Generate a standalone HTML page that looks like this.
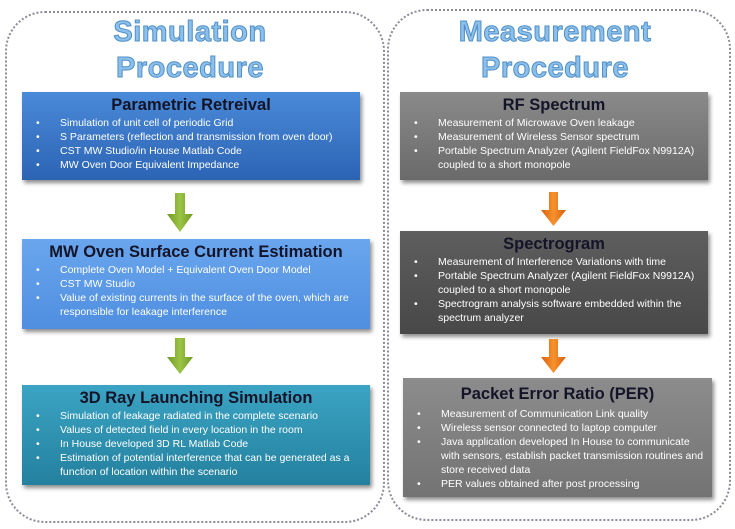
<!DOCTYPE html>
<html><head><meta charset="utf-8"><style>
body{margin:0;width:735px;height:529px;background:#fff;position:relative;overflow:hidden;font-family:"Liberation Sans",sans-serif}
.c{position:absolute;border:2px dotted #8a8a9a;border-radius:40px}
.h{position:absolute;text-align:center;font-weight:bold;font-size:29px;color:#8cc0ea;-webkit-text-stroke:1px #4f8fc8;letter-spacing:0.5px;line-height:36px}
.b{position:absolute;box-shadow:2px 3px 4px rgba(0,0,0,.45);color:#fff;font-size:10.5px;line-height:14px;box-sizing:border-box;padding:4px 8px 0 8px}
.b .t{text-align:center;font-weight:bold;font-size:16.5px;color:#141428;line-height:19px;margin-bottom:1px}
.b ul{margin:0;padding:0;list-style:none}
.b li{position:relative;padding-left:30px}
.b li:before{content:"•";position:absolute;left:6px}
.a{position:absolute}
</style></head><body>
<div class="c" style="left:5px;top:11px;width:376px;height:508px"></div>
<div class="c" style="left:387px;top:9px;width:340px;height:508px"></div>
<div class="h" style="left:20px;top:14px;width:340px">Simulation<br>Procedure</div>
<div class="h" style="left:400px;top:14px;width:310px">Measurement<br>Procedure</div>

<div class="b" style="left:22px;top:92px;width:338px;height:88px;background:linear-gradient(#4a8ad8,#2c64b4)">
<div class="t">Parametric Retreival</div><ul>
<li>Simulation of unit cell of periodic Grid</li>
<li>S Parameters (reflection and transmission from oven door)</li>
<li>CST MW Studio/in House Matlab Code</li>
<li>MW Oven Door Equivalent Impedance</li></ul></div>

<div class="b" style="left:22px;top:239px;width:348px;height:90px;background:linear-gradient(#6aa6ee,#4f8ee0)">
<div class="t">MW Oven Surface Current Estimation</div><ul>
<li>Complete Oven Model + Equivalent Oven Door Model</li>
<li>CST MW Studio</li>
<li>Value of existing currents in the surface of the oven, which are responsible for leakage interference</li></ul></div>

<div class="b" style="left:22px;top:385px;width:348px;height:100px;background:linear-gradient(#3ba4c4,#24809e)">
<div class="t">3D Ray Launching Simulation</div><ul>
<li>Simulation of leakage radiated in the complete scenario</li>
<li>Values of detected field in every location in the room</li>
<li>In House developed 3D RL Matlab Code</li>
<li>Estimation of potential interference that can be generated as a function of location within the scenario</li></ul></div>

<div class="b" style="left:400px;top:92px;width:308px;height:88px;background:linear-gradient(#8a8a8a,#6a6a6a)">
<div class="t">RF Spectrum</div><ul>
<li>Measurement of Microwave Oven leakage</li>
<li>Measurement of Wireless Sensor spectrum</li>
<li>Portable Spectrum Analyzer (Agilent FieldFox N9912A) coupled to a short monopole</li></ul></div>

<div class="b" style="left:400px;top:231px;width:308px;height:103px;background:linear-gradient(#5e5e5e,#484848)">
<div class="t">Spectrogram</div><ul>
<li>Measurement of Interference Variations with time</li>
<li>Portable Spectrum Analyzer (Agilent FieldFox N9912A) coupled to a short monopole</li>
<li>Spectrogram analysis software embedded within the spectrum analyzer</li></ul></div>

<div class="b" style="left:403px;top:378px;width:309px;height:119px;background:linear-gradient(#8c8c8c,#737373);padding-top:7px">
<div class="t" style="margin-bottom:3px">Packet Error Ratio (PER)</div><ul>
<li>Measurement of Communication Link quality</li>
<li>Wireless sensor connected to laptop computer</li>
<li>Java application developed In House to communicate with sensors, establish packet transmission routines and store received data</li>
<li>PER values obtained after post processing</li></ul></div>

<svg class="a" style="left:0;top:0" width="735" height="529">
<defs>
<linearGradient id="g" x1="0" x2="1"><stop offset="0" stop-color="#6f9a28"/><stop offset=".5" stop-color="#9cc444"/><stop offset="1" stop-color="#6f9a28"/></linearGradient>
<linearGradient id="o" x1="0" x2="1"><stop offset="0" stop-color="#d85e0c"/><stop offset=".5" stop-color="#f7922e"/><stop offset="1" stop-color="#d85e0c"/></linearGradient>
</defs>
<polygon points="175,193 185,193 185,214 193,214 180,232 167,214 175,214" fill="url(#g)"/>
<polygon points="175,338 185,338 185,357 193,357 180,374 167,357 175,357" fill="url(#g)"/>
<polygon points="549,192 558,192 558,210 566,210 553.5,226 541,210 549,210" fill="url(#o)"/>
<polygon points="549,339 558,339 558,357 566,357 553.5,373 541,357 549,357" fill="url(#o)"/>
</svg>
</body></html>
